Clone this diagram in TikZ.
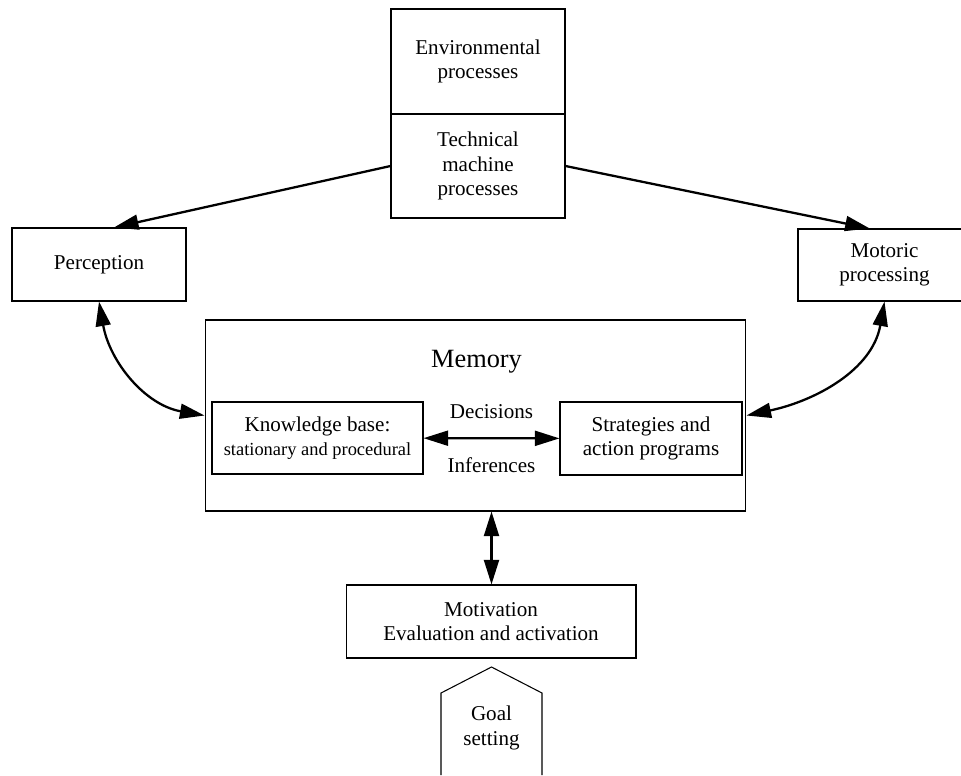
\documentclass[tikz,border=0pt]{standalone}
\usepackage{fontspec}
\setmainfont{Liberation Serif}
\usetikzlibrary{arrows.meta}

\begin{document}
\begin{tikzpicture}[
    x=0.02cm, y=-0.02cm,
    box/.style={draw, line width=0.6pt, inner sep=0pt, align=center,
                font=\fontsize{12}{13.8}\selectfont},
    flow/.style={-{Triangle[length=14pt,width=8.5pt]}, line width=1.3pt},
    link/.style={{Triangle[length=14pt,width=8.5pt]}-{Triangle[length=14pt,width=8.5pt]},
                 line width=1.3pt},
    note/.style={font=\fontsize{12}{13.8}\selectfont, align=center},
]
    \useasboundingbox (0,0) rectangle (961,775);

    \node[box, minimum width=3.48cm, minimum height=2.1cm] (env) at (478,61.5) {Environmental\\processes};
    \node[box, minimum width=3.48cm, minimum height=2.08cm] (tech) at (478,166) {Technical\\machine\\processes};
    \node[box, minimum width=3.48cm, minimum height=1.46cm] (perc) at (99,264.5) {Perception};
    \node[box, minimum width=3.46cm, minimum height=1.44cm] (mot) at (884.5,265) {Motoric\\processing};

    \node[box, minimum width=10.82cm, minimum height=3.82cm] (mem) at (475.5,415.5) {};
    \node[note, font=\fontsize{15}{17}\selectfont] (memtitle) at (476.5,362) {Memory};
    \node[box, minimum width=4.22cm, minimum height=1.44cm] (know) at (317.5,438)
        {Knowledge base:\\{\fontsize{10.5}{12}\selectfont stationary and procedural}};
    \node[box, minimum width=3.64cm, minimum height=1.46cm] (strat) at (651,438.5) {Strategies and\\action programs};

    \node[box, minimum width=5.8cm, minimum height=1.46cm] (motiv) at (491,621.5) {Motivation\\Evaluation and activation};
    \node[note] (goal) at (491.5,728) {Goal\\setting};
    \draw[line width=0.6pt] (441,775) -- (441,693) -- (491.5,667) -- (542,693) -- (542,775);

    \draw[flow] (tech.west) -- (perc.68);
    \draw[flow] (tech.east) -- (mot.112);
    \draw[link] (perc.south) to[out=-80,in=170] (mem.west);
    \draw[link] (mot.south) to[out=-100,in=12] (mem.east);
    \draw[link] (know) -- node[note, above=7pt] {Decisions} node[note, below=7pt] {Inferences} (strat);
    \draw[link] (mem.south -| goal) -- (motiv.north -| goal);

\end{tikzpicture}
\end{document}
